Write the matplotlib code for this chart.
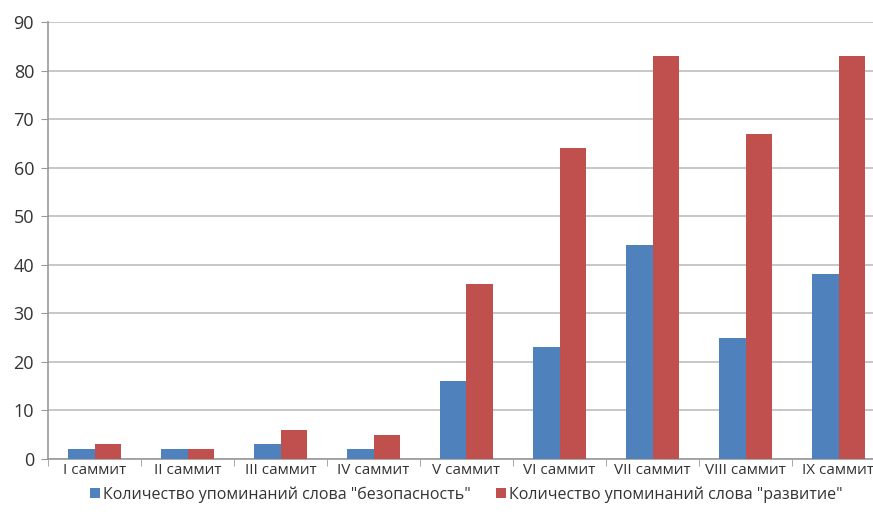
import numpy as np
from matplotlib import pyplot as plt

summits = ['I саммит', 'II саммит', 'III саммит', 'IV саммит', 'V саммит',
           'VI саммит', 'VII саммит', 'VIII саммит', 'IX саммит']
security = [2, 2, 3, 2, 16, 23, 44, 25, 38]
development = [3, 2, 6, 5, 36, 64, 83, 67, 83]
label_security = 'Количество упоминаний слова "безопасность"'
label_development = 'Количество упоминаний слова "развитие"'

plt.rcParams['font.family'] = ['Open Sans', 'DejaVu Sans']

fig = plt.figure(figsize=(8.73, 5.29), dpi=100)
ax = fig.add_axes([48 / 873, 1 - 459 / 529, 837 / 873, 437 / 529])

x = np.arange(len(summits))
w = 0.29
ax.bar(x - w / 2, security, w, color='#4F81BD', label=label_security, zorder=3)
ax.bar(x + w / 2, development, w, color='#C0504D', label=label_development, zorder=3)

ax.set_xlim(-0.5, len(summits) - 0.5)
ax.set_ylim(0, 90)
ax.set_yticks(range(0, 91, 10))
ax.yaxis.grid(True, color='#BEBEBE', linewidth=1.2, zorder=0)

ax.set_xticks(x)
ax.set_xticklabels(summits, fontsize=11, color='#333333')
ax.set_xticks(np.arange(len(summits) + 1) - 0.5, minor=True)
ax.tick_params(axis='x', which='major', length=0, pad=3)
ax.tick_params(axis='x', which='minor', length=5, color='#999999')
ax.tick_params(axis='y', length=5, color='#999999', labelsize=13, labelcolor='#333333', pad=5)

for s in ['top', 'right']:
    ax.spines[s].set_visible(False)
for s in ['left', 'bottom']:
    ax.spines[s].set_color('#999999')
    ax.spines[s].set_linewidth(1.2)

ax.legend(loc='upper center', bbox_to_anchor=(0.5, -0.03), ncol=2, frameon=False,
          fontsize=11.5, handlelength=0.6, handleheight=0.6, handletextpad=0.2,
          columnspacing=1.6, labelcolor='#333333')

fig.savefig('out.png', dpi=100)
